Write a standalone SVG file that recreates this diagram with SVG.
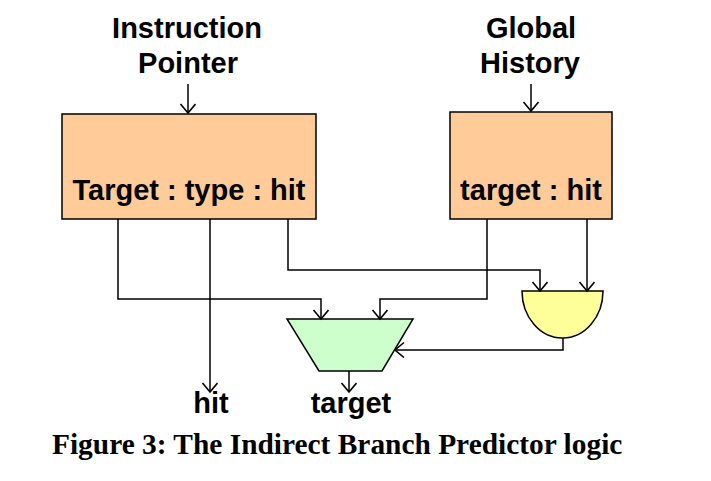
<svg xmlns="http://www.w3.org/2000/svg" width="711" height="481" viewBox="0 0 711 481">
<style>
.lbl{font-family:"Liberation Sans",Arial,sans-serif;font-weight:bold;font-size:29px;fill:#000;text-anchor:middle}
.cap{font-family:"Liberation Serif","Times New Roman",serif;font-weight:bold;font-size:29.4px;fill:#000}
.box{fill:#ffcc99;stroke:#000;stroke-width:1.5}
.wire{fill:none;stroke:#000;stroke-width:1.5;marker-end:url(#arr)}
</style>
<defs>
<marker id="arr" markerUnits="userSpaceOnUse" markerWidth="16" markerHeight="18" refX="10" refY="8" orient="auto">
<path d="M1,0.5 L10,8 L1,15.5" fill="none" stroke="#000" stroke-width="1.6"/>
</marker>
</defs>
<rect width="711" height="481" fill="#fff"/>
<g id="ip-label">
<text class="lbl" x="187" y="38">Instruction</text>
<text class="lbl" x="188" y="73">Pointer</text>
</g>
<g id="gh-label">
<text class="lbl" x="531" y="38">Global</text>
<text class="lbl" x="530" y="73">History</text>
</g>
<g id="btb">
<rect class="box" x="62" y="114" width="254" height="105"/>
<text class="lbl" x="189" y="200">Target : type : hit</text>
</g>
<g id="ittage">
<rect class="box" x="450" y="112" width="162" height="107"/>
<text class="lbl" x="531" y="200">target : hit</text>
</g>
<g id="mux">
<polygon points="287,319 413,319 382,371 319,371" fill="#ccffcc" stroke="#000" stroke-width="1.5"/>
</g>
<g id="and">
<path d="M522,291 H603 A40.5,47 0 0 1 522,291 Z" fill="#ffff99" stroke="#000" stroke-width="1.5"/>
</g>
<g id="connectors">
<path class="wire" d="M188,84 V113"/>
<path class="wire" d="M531,84 V111"/>
<path class="wire" d="M118,219 V299 H321 V319"/>
<path class="wire" d="M210,219 V392"/>
<path class="wire" d="M288,219 V270 H540 V291"/>
<path class="wire" d="M487,219 V299 H380 V319"/>
<path class="wire" d="M587,219 V291"/>
<path class="wire" d="M563,338 V350 H395"/>
<path class="wire" d="M349,371 V392"/>
</g>
<g id="outputs">
<text class="lbl" x="211" y="413">hit</text>
<text class="lbl" x="351" y="413">target</text>
</g>
<text class="cap" x="52" y="454">Figure 3: The Indirect Branch Predictor logic</text>
</svg>
